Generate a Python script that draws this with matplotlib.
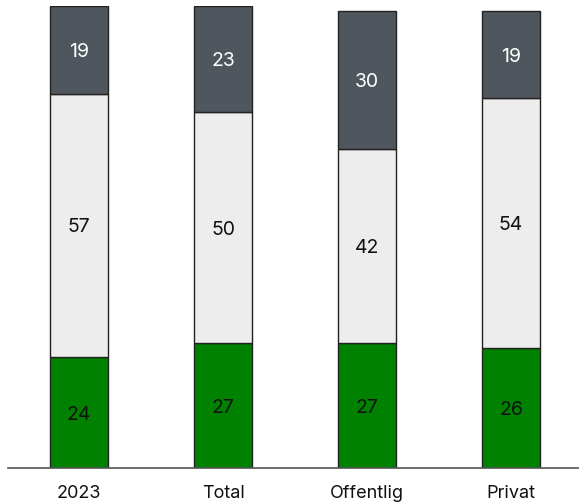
import matplotlib
matplotlib.use("Agg")
import matplotlib.pyplot as plt
import numpy as np

plt.rcParams['font.family'] = ['Inter', 'DejaVu Sans']

categories = ["2023", "Total", "Offentlig", "Privat"]
bottom_vals = [24, 27, 27, 26]
middle_vals = [57, 50, 42, 54]
top_vals = [19, 23, 30, 19]

colors = ["#008200", "#ECEDEC", "#4F565D"]
text_colors = ["#111111", "#111111", "#FFFFFF"]

fig = plt.figure(figsize=(5.79, 5.04), dpi=100)
ax = fig.add_axes([8 / 579, 36 / 504, 571 / 579, 462 / 504])

label_size = 14
cap_offset = -0.36 * label_size  # half the digit height, in points

x = np.arange(len(categories))
width = 0.40
base = np.zeros(len(categories))
for vals, col, tcol in zip([bottom_vals, middle_vals, top_vals], colors, text_colors):
    ax.bar(x, vals, width, bottom=base, color=col, edgecolor="#222222",
           linewidth=1.0, zorder=2)
    for xi, b, v in zip(x, base, vals):
        ax.annotate(f"{v}", (xi, b + v / 2), xytext=(0, cap_offset),
                    textcoords="offset points", ha="center", va="baseline",
                    color=tcol, fontsize=label_size, zorder=3)
    base = base + np.array(vals)

ax.set_xlim(-0.493, 3.472)
ax.set_ylim(0, 100)
ax.set_xticks(x)
ax.set_xticklabels(categories, fontsize=13, color="#111111")
ax.tick_params(axis="x", length=0, pad=12)
ax.set_yticks([])
for side in ["top", "right", "left"]:
    ax.spines[side].set_visible(False)
ax.spines["bottom"].set_color("#555555")
ax.spines["bottom"].set_linewidth(1.2)
ax.spines["bottom"].set_zorder(4)

fig.savefig("out.png", dpi=100)
